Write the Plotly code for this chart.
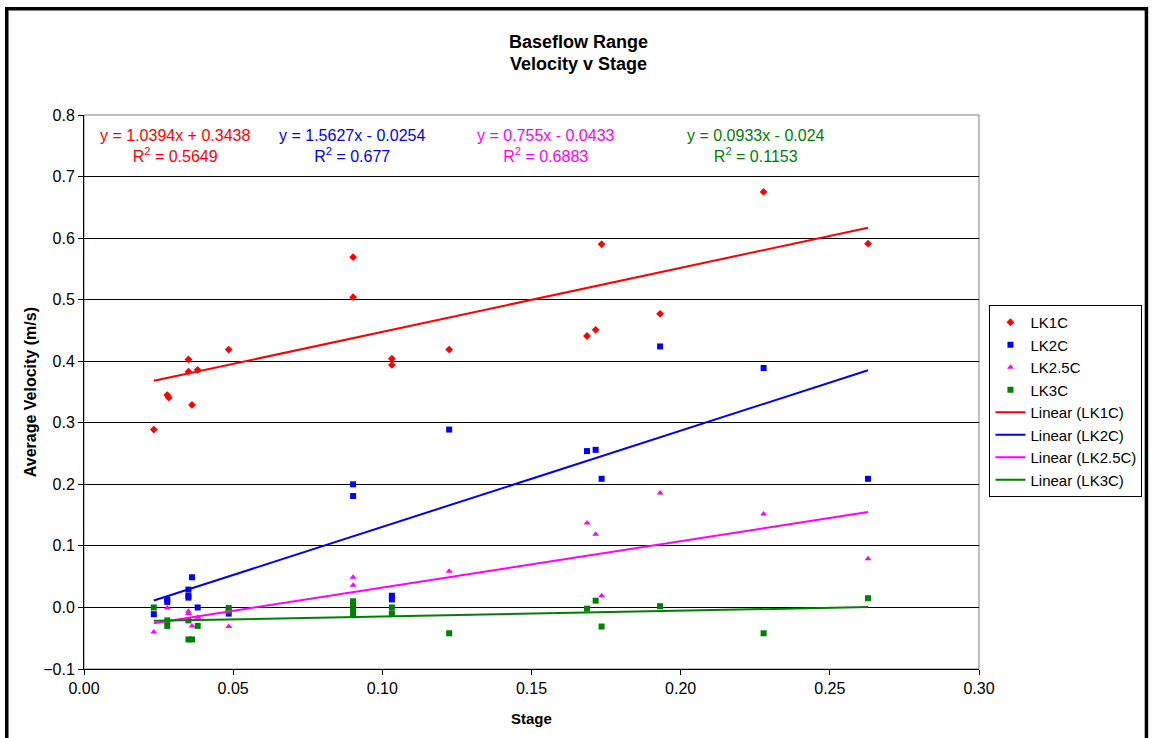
import plotly.graph_objects as go

# ---- data ----
lk1c_x = [0.0234, 0.0279, 0.0284, 0.0350, 0.0350, 0.0362, 0.0381, 0.0485, 0.0902, 0.0902,
          0.1032, 0.1032, 0.1224, 0.1686, 0.1715, 0.1735, 0.1931, 0.2278, 0.2628]
lk1c_y = [0.289, 0.345, 0.341, 0.403, 0.383, 0.329, 0.386, 0.419, 0.569, 0.504,
          0.404, 0.394, 0.419, 0.441, 0.451, 0.590, 0.477, 0.675, 0.591]

lk2c_x = [0.0234, 0.0279, 0.0279, 0.0350, 0.0350, 0.0350, 0.0362, 0.0381, 0.0485, 0.0902, 0.0902,
          0.1032, 0.1032, 0.1224, 0.1686, 0.1715, 0.1735, 0.1931, 0.2278, 0.2628]
lk2c_y = [-0.011, 0.013, 0.009, 0.029, 0.019, 0.016, 0.049, 0.000, -0.010, 0.200, 0.181,
          0.019, 0.013, 0.289, 0.254, 0.256, 0.209, 0.424, 0.389, 0.209]

lk25c_x = [0.0234, 0.0279, 0.0350, 0.0350, 0.0362, 0.0381, 0.0485, 0.0902, 0.0902,
           0.1032, 0.1224, 0.1686, 0.1715, 0.1735, 0.1931, 0.2278, 0.2628]
lk25c_y = [-0.040, -0.001, -0.006, -0.010, -0.030, -0.016, -0.031, 0.049, 0.036,
           -0.008, 0.059, 0.137, 0.119, 0.019, 0.186, 0.152, 0.079]

lk3c_x = [0.0234, 0.0279, 0.0279, 0.0350, 0.0350, 0.0362, 0.0381, 0.0485, 0.0485, 0.0902, 0.0902,
          0.0902, 0.0902, 0.1032, 0.1032, 0.1224, 0.1686, 0.1715, 0.1735, 0.1931, 0.2278, 0.2628]
lk3c_y = [0.000, -0.021, -0.030, -0.021, -0.052, -0.052, -0.030, -0.001, -0.006, 0.010, 0.004,
          -0.003, -0.012, 0.000, -0.010, -0.042, -0.002, 0.011, -0.031, 0.002, -0.042, 0.015]

series_names = ["LK1C", "LK2C", "LK2.5C", "LK3C"]
series_colors = ["#FF0000", "#0000FF", "#FF00FF", "#008000"]
series_symbols = ["diamond", "square", "triangle-up", "square"]
series_sizes = [6, 6, 6, 6]
slopes = [1.0394, 1.5627, 0.755, 0.0933]
intercepts = [0.3438, -0.0254, -0.0433, -0.024]
eq_texts = ["y = 1.0394x + 0.3438", "y = 1.5627x - 0.0254", "y = 0.755x - 0.0433", "y = 0.0933x - 0.024"]
r2_texts = ["0.5649", "0.677", "0.6883", "0.1153"]
eq_xpos = [0.1019, 0.2996, 0.516, 0.7506]

xs = [lk1c_x, lk2c_x, lk25c_x, lk3c_x]
ys = [lk1c_y, lk2c_y, lk25c_y, lk3c_y]

FONT = "Arial, 'Liberation Sans', sans-serif"

fig = go.Figure()
for i in range(4):
    fig.add_trace(go.Scatter(
        x=xs[i], y=ys[i], mode="markers", name=series_names[i],
        marker=dict(symbol=series_symbols[i], color=series_colors[i], size=series_sizes[i],
                    line=dict(width=0)),
    ))
for i in range(4):
    x0, x1 = min(xs[i]), max(xs[i])
    fig.add_trace(go.Scatter(
        x=[x0, x1], y=[slopes[i] * x0 + intercepts[i], slopes[i] * x1 + intercepts[i]],
        mode="lines", name=f"Linear ({series_names[i]})",
        line=dict(color=series_colors[i], width=2),
    ))

W, H = 1154, 738
L, R, T, B = 84, 982, 115, 669

def px(xp):
    return (xp - L) / (R - L)

def py(yp):
    return (B - yp) / (B - T)

annotations = []
for i in range(4):
    annotations.append(dict(
        x=eq_xpos[i], y=py(146), xref="paper", yref="paper",
        text=f"{eq_texts[i]}<br>R<sup>2</sup> = {r2_texts[i]}",
        showarrow=False, align="center", xanchor="center", yanchor="middle",
        font=dict(family=FONT, size=16, color=series_colors[i]),
    ))
annotations.append(dict(
    x=0.5, y=py(718), xref="paper", yref="paper", text="<b>Stage</b>",
    showarrow=False, xanchor="center", yanchor="middle",
    font=dict(family=FONT, size=15, color="black"),
))
annotations.append(dict(
    x=px(30), y=0.5, xref="paper", yref="paper", text="<b>Average Velocity (m/s)</b>",
    showarrow=False, xanchor="center", yanchor="middle", textangle=-90,
    font=dict(family=FONT, size=16, color="black"),
))
# title lines
annotations.append(dict(
    x=px(580), y=py(42), xref="paper", yref="paper", text="<b>Baseflow Range</b>",
    showarrow=False, xanchor="center", yanchor="middle",
    font=dict(family=FONT, size=18, color="black"),
))
annotations.append(dict(
    x=px(580), y=py(64), xref="paper", yref="paper", text="<b>Velocity v Stage</b>",
    showarrow=False, xanchor="center", yanchor="middle",
    font=dict(family=FONT, size=18, color="black"),
))

shapes = [
    dict(type="rect", xref="paper", yref="paper", x0=0, x1=1, y0=0, y1=1,
         line=dict(color="#808080", width=1), layer="below"),
    dict(type="rect", xref="paper", yref="paper",
         x0=px(6.5), x1=px(1150), y0=py(760), y1=py(8.7),
         line=dict(color="black", width=3.5)),
]

fig.update_layout(
    width=W, height=H,
    margin=dict(l=L, r=W - R, t=T, b=H - B),
    paper_bgcolor="white", plot_bgcolor="white",
    font=dict(family=FONT, size=16, color="black"),
    showlegend=True,
    legend=dict(x=px(1146), y=py(305), xanchor="right", yanchor="top",
                bordercolor="black", borderwidth=1, bgcolor="white",
                font=dict(family=FONT, size=15, color="black"),
                tracegroupgap=0, itemwidth=30),
    annotations=annotations,
    shapes=shapes,
    xaxis=dict(range=[0, 0.3], tickvals=[0, 0.05, 0.1, 0.15, 0.2, 0.25, 0.3], tickformat=".2f",
               showgrid=False, zeroline=False, showline=True, linecolor="black", linewidth=1,
               ticks="outside", ticklen=5, tickcolor="black",
               tickfont=dict(family=FONT, size=16, color="black")),
    yaxis=dict(range=[-0.1, 0.8], tickvals=[-0.1, 0, 0.1, 0.2, 0.3, 0.4, 0.5, 0.6, 0.7, 0.8],
               tickformat=".1f", showgrid=True, gridcolor="black", gridwidth=1,
               zeroline=False, showline=True, linecolor="black", linewidth=1,
               ticks="outside", ticklen=5, tickcolor="black",
               tickfont=dict(family=FONT, size=16, color="black")),
)

fig.write_html("out.html")
